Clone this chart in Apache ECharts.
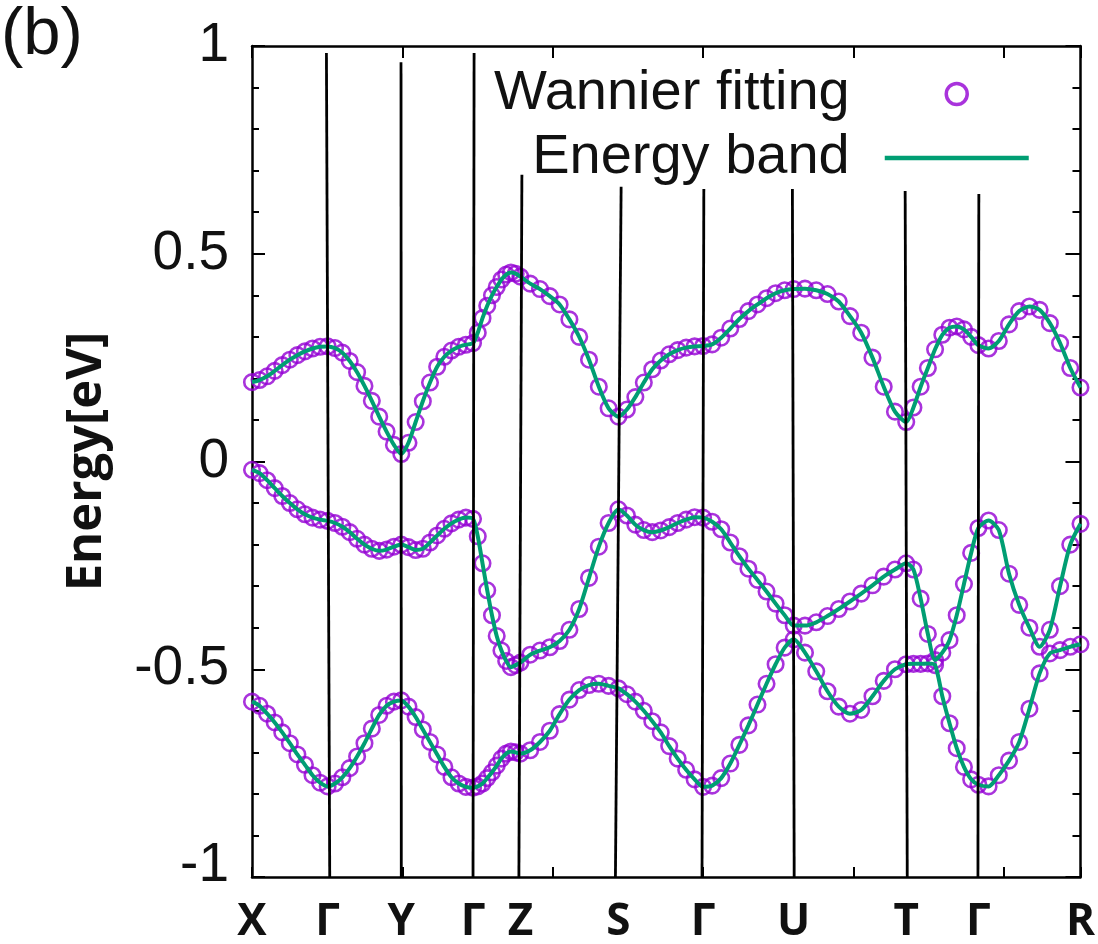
<!DOCTYPE html>
<html>
<head>
<meta charset="utf-8">
<script src="https://cdn.jsdelivr.net/npm/echarts@6/dist/echarts.min.js"></script>
<style>html,body{margin:0;padding:0;background:#fff;}#main{width:1098px;height:944px;}</style>
</head>
<body>
<div id="main"></div>
<script>
// high-symmetry k-path nodes (x-axis units) and their labels
const kNodes = [0, 0.503, 0.993, 1.470, 1.785, 2.437, 3.0, 3.603, 4.351, 4.831, 5.51];
const kLabels = ['X', 'Γ', 'Y', 'Γ', 'Z', 'S', 'Γ', 'U', 'T', 'Γ', 'R'];
const STEPS = 10; // k-points per path segment

// band energies (eV), sorted by energy, read along the path X→Γ→Y→Γ→Z→S→Γ→U→T→Γ→R
const band3 = [
  0.191, 0.196, 0.205, 0.218, 0.232, 0.245, 0.256, 0.265, 0.272, 0.276, 0.277,
  0.273, 0.262, 0.242, 0.215, 0.182, 0.146, 0.108, 0.072, 0.040, 0.018,
  0.045, 0.095, 0.145, 0.190, 0.228, 0.252, 0.267, 0.276, 0.281, 0.285,
  0.310, 0.345, 0.375, 0.400, 0.420, 0.438, 0.450, 0.455, 0.452, 0.445,
  0.428, 0.415, 0.398, 0.378, 0.342, 0.300, 0.245, 0.180, 0.128, 0.108,
  0.125, 0.155, 0.190, 0.222, 0.243, 0.258, 0.268, 0.274, 0.277, 0.278,
  0.282, 0.298, 0.320, 0.343, 0.362, 0.378, 0.393, 0.405, 0.412, 0.415,
  0.416, 0.412, 0.403, 0.385, 0.350, 0.310, 0.250, 0.180, 0.120, 0.095,
  0.130, 0.180, 0.225, 0.270, 0.305, 0.322, 0.325, 0.318, 0.300, 0.280,
  0.272, 0.290, 0.330, 0.362, 0.373, 0.365, 0.333, 0.285, 0.225, 0.178
];
const band2 = [
  -0.020, -0.028, -0.045, -0.064, -0.083, -0.100, -0.115, -0.127, -0.135, -0.140, -0.143,
  -0.148, -0.157, -0.170, -0.186, -0.200, -0.210, -0.215, -0.212, -0.205, -0.200,
  -0.206, -0.213, -0.210, -0.195, -0.178, -0.162, -0.149, -0.140, -0.135, -0.138,
  -0.180, -0.245, -0.310, -0.370, -0.420, -0.455, -0.480, -0.495, -0.490, -0.484,
  -0.465, -0.455, -0.447, -0.432, -0.405, -0.355, -0.280, -0.205, -0.148, -0.115,
  -0.130, -0.152, -0.165, -0.170, -0.166, -0.158, -0.148, -0.140, -0.134, -0.135,
  -0.145, -0.163, -0.195, -0.228, -0.258, -0.285, -0.313, -0.342, -0.370, -0.395,
  -0.395, -0.387, -0.372, -0.355, -0.337, -0.318, -0.298, -0.277, -0.260, -0.245,
  -0.260, -0.330, -0.415, -0.478, -0.460, -0.430, -0.370, -0.295, -0.220, -0.160,
  -0.142, -0.165, -0.270, -0.345, -0.400, -0.446, -0.405, -0.300, -0.200, -0.150
];
const band1 = [
  -0.578, -0.588, -0.607, -0.628, -0.652, -0.678, -0.705, -0.730, -0.755, -0.773, -0.782,
  -0.775, -0.760, -0.738, -0.710, -0.678, -0.643, -0.610, -0.588, -0.578, -0.575,
  -0.590, -0.615, -0.645, -0.675, -0.705, -0.735, -0.760, -0.775, -0.783, -0.785,
  -0.782, -0.775, -0.762, -0.748, -0.732, -0.715, -0.703, -0.698, -0.700, -0.703,
  -0.695, -0.675, -0.648, -0.608, -0.573, -0.550, -0.538, -0.535, -0.540, -0.546,
  -0.560, -0.578, -0.600, -0.625, -0.652, -0.685, -0.715, -0.742, -0.765, -0.783,
  -0.780, -0.762, -0.727, -0.682, -0.635, -0.585, -0.535, -0.488, -0.448, -0.428,
  -0.460, -0.505, -0.553, -0.590, -0.607, -0.598, -0.565, -0.528, -0.500, -0.488,
  -0.487, -0.487, -0.486, -0.490, -0.565, -0.630, -0.690, -0.735, -0.765, -0.778,
  -0.782, -0.755, -0.720, -0.675, -0.595, -0.510, -0.462, -0.454, -0.446, -0.440
];

// hand-drawn high-symmetry separator lines: bottom x, top x, top energy
const vLineBottomX = [0.517, 0.993, 1.470, 1.775, 2.417, 2.993, 3.606, 4.358, 4.828];
const vLineTopX    = [0.495, 0.991, 1.477, 1.795, 2.455, 3.005, 3.594, 4.344, 4.834];
const vLineTopY    = [0.983, 0.961, 0.983, 0.690, 0.661, 0.656, 0.656, 0.651, 0.644];

// k-point grid: STEPS points per path segment
const kx = [];
for (let s = 0; s < kNodes.length - 1; s++) {
  for (let i = (s === 0 ? 0 : 1); i <= STEPS; i++) {
    kx.push(kNodes[s] + (kNodes[s + 1] - kNodes[s]) * i / STEPS);
  }
}

const PURPLE = '#9400d3';
const GREEN = '#009e73';
const bands = [band1, band2, band3];

const series = [];
bands.forEach(function (b) {
  series.push({
    type: 'scatter', name: 'Wannier fitting',
    data: b.map(function (v, i) { return [kx[i], v]; }),
    symbol: 'circle', symbolSize: 15.5, z: 2, silent: true,
    itemStyle: { color: 'rgba(0,0,0,0)', borderColor: PURPLE, borderWidth: 2.6 }
  });
});
bands.forEach(function (b) {
  series.push({
    type: 'line', name: 'Energy band',
    data: b.map(function (v, i) { return [kx[i], v]; }),
    symbol: 'none', smooth: 0.25, z: 3, silent: true,
    itemStyle: { color: GREEN },
    lineStyle: { color: GREEN, width: 4 }
  });
});
vLineBottomX.forEach(function (x, i) {
  series.push({
    type: 'line', name: 'k-line ' + i, silent: true, z: 5,
    symbol: 'none', clip: false,
    data: [[x, -1], [vLineTopX[i], vLineTopY[i]]],
    lineStyle: { color: '#000', width: 2.8 }
  });
});

const axisLineStyle = { color: '#000', width: 2.5 };
const tickStyle = { color: '#000', width: 2 };
const tickFont = 'Liberation Sans';

const option = {
  backgroundColor: '#fff',
  animation: false,
  grid: { left: 252, right: 14, top: 46, bottom: 67, containLabel: false },
  graphic: [{
    type: 'text', left: 1, top: 2,
    style: { text: '(b)', font: '67px "Liberation Sans"', fill: '#111' }
  }],
  legend: {
    orient: 'vertical', align: 'right', right: 67, top: 66, padding: 0,
    itemGap: 8, itemWidth: 144, itemHeight: 21, selectedMode: false,
    textStyle: { fontFamily: tickFont, fontSize: 56, color: '#111', padding: [0, 30, 0, 0] },
    data: [
      { name: 'Wannier fitting', icon: 'circle',
        itemStyle: { color: 'rgba(0,0,0,0)', borderColor: PURPLE, borderWidth: 3.5 } },
      { name: 'Energy band', itemStyle: { opacity: 0 }, lineStyle: { color: GREEN, width: 4.5 } }
    ]
  },
  xAxis: [
    {
      type: 'value', min: 0, max: 5.51, interval: 1, position: 'bottom',
      axisLine: { show: true, onZero: false, lineStyle: axisLineStyle },
      axisTick: { inside: true, length: 10, lineStyle: tickStyle },
      splitLine: { show: false },
      axisLabel: {
        customValues: kNodes, interval: 0, hideOverlap: false,
        showMinLabel: true, showMaxLabel: true, margin: 23,
        fontFamily: 'Open Sans', fontWeight: 'bold', fontSize: 44, color: '#111',
        formatter: function (v) {
          for (let i = 0; i < kNodes.length; i++) {
            if (Math.abs(kNodes[i] - v) < 1e-6) return kLabels[i];
          }
          return '';
        }
      }
    },
    {
      type: 'value', min: 0, max: 5.51, interval: 1, position: 'top',
      axisLine: { show: true, onZero: false, lineStyle: axisLineStyle },
      axisTick: { inside: true, length: 12, lineStyle: tickStyle },
      splitLine: { show: false }, axisLabel: { show: false }
    }
  ],
  yAxis: [
    {
      type: 'value', min: -1, max: 1, interval: 0.5, position: 'left',
      axisLine: { show: true, onZero: false, lineStyle: axisLineStyle },
      axisTick: { inside: true, length: 13, lineStyle: tickStyle },
      minorTick: { show: true, splitNumber: 5, length: 7, lineStyle: tickStyle },
      splitLine: { show: false }, minorSplitLine: { show: false },
      axisLabel: {
        margin: 23, color: '#111',
        formatter: function (v) { return v === -1 ? '{lo|-1}' : '{n|' + v + '}'; },
        rich: {
          n: { fontFamily: tickFont, fontSize: 55, color: '#111' },
          lo: { fontFamily: tickFont, fontSize: 55, color: '#111', padding: [0, 0, 22, 0] }
        }
      },
      name: 'Energy[eV]', nameLocation: 'middle', nameGap: 140, nameRotate: 90,
      nameTextStyle: { fontFamily: 'Open Sans', fontWeight: 'bold', fontSize: 49, color: '#111' }
    },
    {
      type: 'value', min: -1, max: 1, interval: 0.5, position: 'right',
      axisLine: { show: true, onZero: false, lineStyle: axisLineStyle },
      axisTick: { inside: true, length: 15, lineStyle: tickStyle },
      minorTick: { show: true, splitNumber: 5, length: 8, lineStyle: tickStyle },
      splitLine: { show: false }, minorSplitLine: { show: false },
      axisLabel: { show: false }
    }
  ],
  series: series
};

const chart = echarts.init(document.getElementById('main'), null, { renderer: 'canvas' });
chart.setOption(option);
</script>
</body>
</html>
